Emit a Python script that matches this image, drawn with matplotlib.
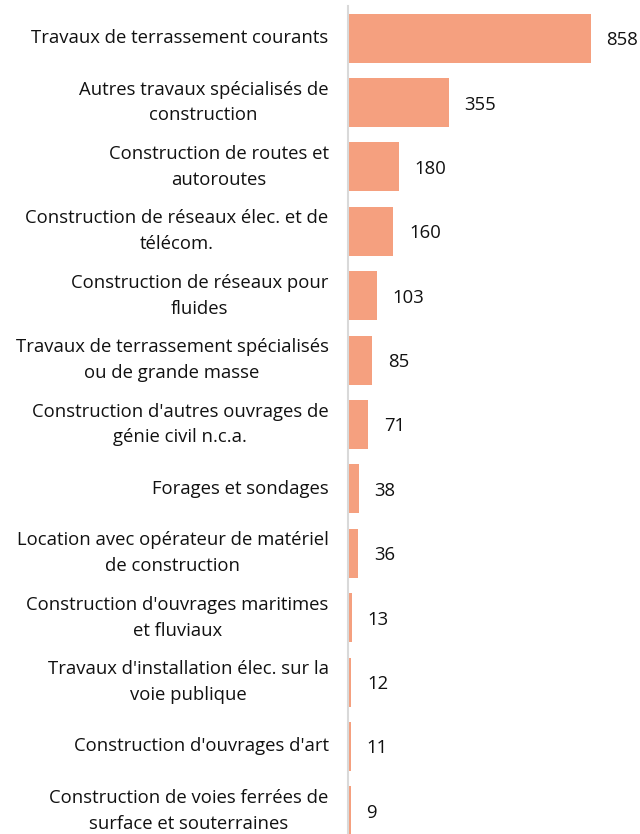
import matplotlib.pyplot as plt

plt.rcParams['font.family'] = ['Open Sans', 'DejaVu Sans']

categories = [
    "Travaux de terrassement courants",
    "Autres travaux spécialisés de\nconstruction",
    "Construction de routes et\nautoroutes",
    "Construction de réseaux élec. et de\ntélécom.",
    "Construction de réseaux pour\nfluides",
    "Travaux de terrassement spécialisés\nou de grande masse",
    "Construction d'autres ouvrages de\ngénie civil n.c.a.",
    "Forages et sondages",
    "Location avec opérateur de matériel\nde construction",
    "Construction d'ouvrages maritimes\net fluviaux",
    "Travaux d'installation élec. sur la\nvoie publique",
    "Construction d'ouvrages d'art",
    "Construction de voies ferrées de\nsurface et souterraines",
]
values = [858, 355, 180, 160, 103, 85, 71, 38, 36, 13, 12, 11, 9]

bar_color = '#F5A07F'

fig = plt.figure(figsize=(6.4, 8.34), dpi=100)
ax = fig.add_axes([348 / 640, 1 - 843 / 834, 292 / 640, 837 / 834])

pos = list(range(len(values)))
ax.barh(pos, values, height=0.76, color=bar_color)

for p, v in zip(pos, values):
    ax.text(v + 55, p + 0.03, str(v), va='center', ha='left', fontsize=13.3, color='#111111')

ax.set_xlim(0, 1031)
ax.set_ylim(12.5, -0.5)
ax.set_yticks(pos)
ax.set_yticklabels(categories, fontsize=13.3, color='#111111')
for t in ax.get_yticklabels():
    t.set_multialignment('center')
    t.set_linespacing(1.55)
    t.set_verticalalignment('center')
ax.tick_params(axis='y', length=0, pad=14)
ax.set_xticks([])

for s in ['top', 'right', 'bottom']:
    ax.spines[s].set_visible(False)
ax.spines['left'].set_color('#D9D9D9')
ax.spines['left'].set_linewidth(1.5)

fig.savefig('out.png', dpi=100)
